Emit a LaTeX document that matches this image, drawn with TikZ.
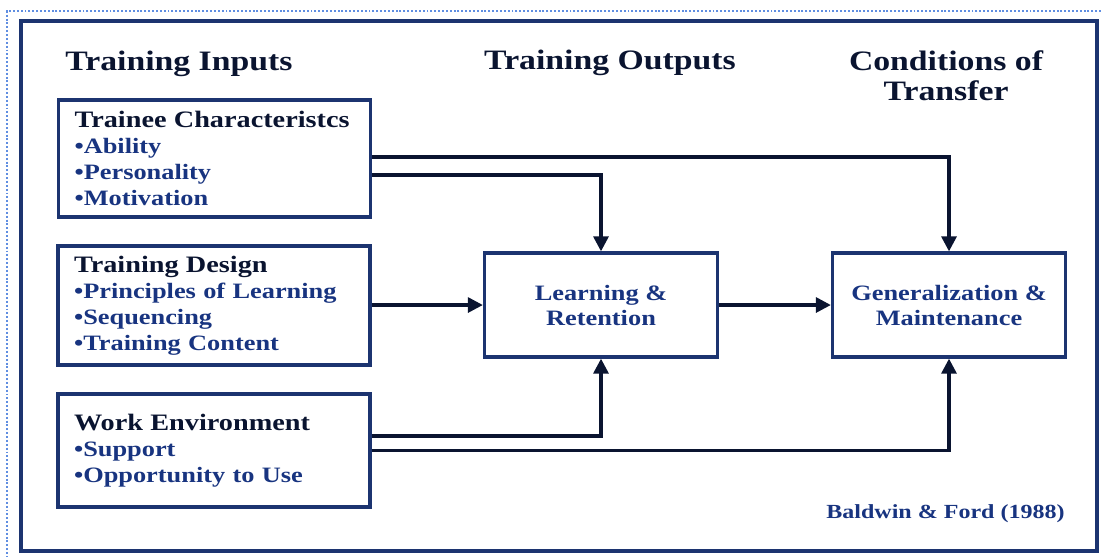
\documentclass[tikz,border=0pt]{standalone}
\usepackage{fontspec}
\setmainfont{Liberation Serif}[FakeStretch=1.2]
\usepackage{xcolor}
\usepackage{tikz}
\usetikzlibrary{arrows.meta}
\definecolor{FrameNavy}{RGB}{28,52,112}
\definecolor{InkNavy}{RGB}{10,20,48}
\definecolor{TextBlue}{RGB}{24,52,128}
\definecolor{DotBlue}{RGB}{96,142,225}

\begin{document}
\begin{tikzpicture}[x=0.02cm, y=-0.02cm,
  inbox/.style={draw=FrameNavy, line width=1.9pt, minimum width=6.24cm, text width=5.6cm, align=left,
    inner sep=0pt, text=TextBlue, font=\bfseries\fontsize{12.5}{14.8}\selectfont},
  outbox/.style={draw=FrameNavy, line width=1.9pt, minimum width=4.66cm, minimum height=2.08cm, align=center,
    inner sep=0pt, text=TextBlue, font=\bfseries\fontsize{12.5}{14.2}\selectfont},
  heading/.style={inner sep=0pt, text=InkNavy, font=\bfseries\fontsize{16}{17}\selectfont},
  flow/.style={draw=InkNavy, line width=1.8pt, -{Triangle[length=0.3cm, width=0.3cm]}}]
  \useasboundingbox (0,0) rectangle (1101,556);
  % page border and frame
  \draw[DotBlue, line width=1.2pt, dash pattern=on 1.1pt off 1.1pt] (1101,11) -- (7,11) -- (7,556);
  \draw[FrameNavy, line width=1.9pt] (21,21) rectangle (1097,551);

  % column headings
  \node[heading, anchor=base west] (hin) at (65,70) {Training Inputs};
  \node[heading, anchor=base] (hout) at (610,69) {Training Outputs};
  \node[heading, anchor=base, align=center] (hcond) at (946,100) {Conditions of\\Transfer};

  % inputs
  \node[inbox, minimum height=2.34cm] (trainee) at (214.5,158.5)
    {{\color{InkNavy}\fontsize{13.4}{14.8}\selectfont Trainee Characteristcs}\\
     •Ability\\•Personality\\•Motivation};
  \node[inbox, minimum height=2.38cm] (design) at (214,305.5)
    {{\color{InkNavy}\fontsize{13.4}{14.8}\selectfont Training Design}\\
     •Principles of Learning\\•Sequencing\\•Training Content};
  \node[inbox, minimum height=2.26cm] (workenv) at (214,450.5)
    {{\color{InkNavy}\fontsize{13.4}{14.8}\selectfont Work Environment}\\
     •Support\\•Opportunity to Use\\[14.8pt]};

  % outputs and conditions
  \node[outbox] (learning) at (601,305) {Learning \&\\Retention};
  \node[outbox] (general) at (949,305) {Generalization \&\\Maintenance};

  % connectors
  \draw[flow] ([yshift=0.03cm]trainee.east) -| (general.north);
  \draw[flow] ([yshift=-0.33cm]trainee.east) -| (learning.north);
  \draw[flow] (design.east |- learning.west) -- (learning.west);
  \draw[flow] (learning.east) -- (general.west);
  \draw[flow] ([yshift=0.29cm]workenv.east) -| (learning.south);
  \draw[flow] (workenv.east) -| (general.south);

  \node[anchor=base east, inner sep=0pt, text=TextBlue, font=\bfseries\fontsize{11.4}{13}\selectfont]
    (source) at (1065,518) {Baldwin \& Ford (1988)};
\end{tikzpicture}
\end{document}
